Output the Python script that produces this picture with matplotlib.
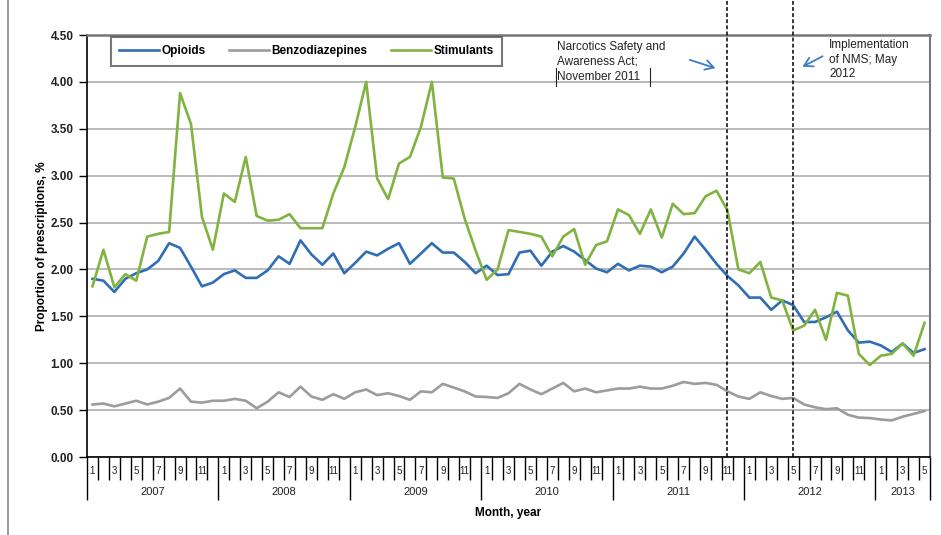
import numpy as np
import matplotlib.pyplot as plt
from matplotlib.lines import Line2D
from matplotlib.ticker import FormatStrFormatter
from matplotlib.transforms import blended_transform_factory

plt.rcParams["font.family"] = ["Liberation Sans", "DejaVu Sans"]

# months shown: Jan 2007 .. May 2013
years = [2007, 2008, 2009, 2010, 2011, 2012, 2013]
months_per_year = [12, 12, 12, 12, 12, 12, 5]

opioids = [
    1.90, 1.88, 1.76, 1.90, 1.96, 2.00, 2.09, 2.28, 2.23, 2.03, 1.82, 1.86,
    1.95, 1.99, 1.91, 1.91, 1.99, 2.14, 2.06, 2.31, 2.16, 2.05, 2.17, 1.96,
    2.07, 2.19, 2.15, 2.22, 2.28, 2.06, 2.17, 2.28, 2.18, 2.18, 2.08, 1.96,
    2.04, 1.94, 1.95, 2.18, 2.20, 2.04, 2.19, 2.25, 2.19, 2.10, 2.01, 1.97,
    2.06, 1.99, 2.04, 2.03, 1.97, 2.03, 2.17, 2.35, 2.21, 2.06, 1.93, 1.83,
    1.70, 1.70, 1.57, 1.67, 1.62, 1.44, 1.44, 1.49, 1.55, 1.35, 1.22, 1.23,
    1.19, 1.12, 1.21, 1.11, 1.15,
]
benzodiazepines = [
    0.56, 0.57, 0.54, 0.57, 0.60, 0.56, 0.59, 0.63, 0.73, 0.59, 0.58, 0.60,
    0.60, 0.62, 0.60, 0.52, 0.59, 0.69, 0.64, 0.75, 0.645, 0.61, 0.67, 0.62,
    0.69, 0.72, 0.66, 0.68, 0.65, 0.61, 0.70, 0.69, 0.78, 0.74, 0.70, 0.645,
    0.64, 0.63, 0.68, 0.78, 0.72, 0.67, 0.73, 0.79, 0.70, 0.73, 0.69, 0.71,
    0.73, 0.73, 0.75, 0.73, 0.73, 0.76, 0.80, 0.78, 0.79, 0.77, 0.70, 0.645,
    0.62, 0.69, 0.65, 0.62, 0.63, 0.56, 0.53, 0.51, 0.52, 0.45, 0.42, 0.415,
    0.40, 0.39, 0.43, 0.46, 0.49,
]
stimulants = [
    1.82, 2.21, 1.81, 1.95, 1.88, 2.35, 2.38, 2.40, 3.88, 3.55, 2.56, 2.21,
    2.81, 2.72, 3.20, 2.57, 2.52, 2.53, 2.59, 2.44, 2.44, 2.44, 2.81, 3.09,
    3.52, 4.00, 2.97, 2.75, 3.13, 3.20, 3.52, 4.00, 2.98, 2.97, 2.54, 2.20,
    1.89, 2.00, 2.42, 2.40, 2.38, 2.35, 2.14, 2.35, 2.43, 2.05, 2.26, 2.30,
    2.64, 2.58, 2.38, 2.64, 2.34, 2.70, 2.59, 2.60, 2.78, 2.84, 2.63, 2.00,
    1.96, 2.08, 1.70, 1.67, 1.35, 1.40, 1.57, 1.25, 1.75, 1.72, 1.10, 0.98,
    1.08, 1.10, 1.21, 1.08, 1.43,
]
# policy events (year, month)
events = [(2011, 11), (2012, 5)]

months = [(y, m) for y, n in zip(years, months_per_year) for m in range(1, n + 1)]
x = np.arange(len(months))

W, H = 941, 535
fig = plt.figure(figsize=(W / 100, H / 100), dpi=100)
ax = fig.add_axes([87 / W, 1 - 457 / H, (930 - 87) / W, (457 - 35) / H])

ax.plot(x, opioids, color="#2f6db5", lw=1.9, label="Opioids", zorder=3)
ax.plot(x, benzodiazepines, color="#9c9c9c", lw=1.9, label="Benzodiazepines", zorder=2)
ax.plot(x, stimulants, color="#80b33f", lw=1.9, label="Stimulants", zorder=4)

# dashed event lines reaching up to the top of the figure
for ev in events:
    ax.axvline(months.index(ev), ymin=0, ymax=457 / 422, color="black",
               ls=(0, (2.5, 1.5)), lw=1.1, clip_on=False, zorder=5)

ax.set_xlim(-0.5, len(months) - 0.5)
ax.set_ylim(0, 4.5)
ax.set_yticks(np.arange(0, 4.51, 0.5))
ax.yaxis.set_major_formatter(FormatStrFormatter("%.2f"))
ax.tick_params(axis="y", length=6, width=1, pad=3.5, labelsize=8.5,
               labelcolor="#222222")
for lab in ax.get_yticklabels():
    lab.set_fontweight("bold")
ax.yaxis.grid(True, color="#b4b4b4", lw=1.3)
ax.set_axisbelow(True)

# x axis: month separators (minor), year separators (major)
year_bounds = np.concatenate([[0], np.cumsum(months_per_year)]) - 0.5
ax.set_xticks(year_bounds)
ax.set_xticks(x[1:] - 0.5, minor=True)
ax.tick_params(axis="x", which="major", length=31, width=1, labelbottom=False)
ax.tick_params(axis="x", which="minor", length=16.5, width=1, labelbottom=False)

trans = blended_transform_factory(ax.transData, ax.transAxes)
for i, (y, m) in enumerate(months):
    if m % 2 == 1:
        ax.text(i, -0.033, str(m), transform=trans, ha="center", va="center",
                fontsize=7, color="#222222")
for k, y in enumerate(years):
    mid = (year_bounds[k] + year_bounds[k + 1]) / 2
    ax.text(mid, -0.084, str(y), transform=trans, ha="center", va="center",
            fontsize=8, color="#222222")

for side in ["left", "bottom"]:
    ax.spines[side].set_color("black")
    ax.spines[side].set_linewidth(1.2)
ax.spines["top"].set_color("#777777")
ax.spines["top"].set_linewidth(1.8)
ax.spines["right"].set_color("#777777")
ax.spines["right"].set_linewidth(1.5)

ax.set_xlabel("Month, year", fontsize=8.5, fontweight="bold", va="center")
ax.xaxis.set_label_coords(0.5, -0.133)
ax.set_ylabel("Proportion of prescriptions, %", fontsize=8.5,
              fontweight="bold", va="center")
ax.yaxis.set_label_coords(-0.053, 0.5)

leg = ax.legend(loc="upper left", bbox_to_anchor=(0.028, 0.995), ncol=3,
                borderaxespad=0, fancybox=False, handlelength=3.4,
                handletextpad=0.2, columnspacing=2.0, borderpad=0.7,
                prop={"size": 8.5, "weight": "bold"})
leg.get_frame().set_edgecolor("#555555")
leg.get_frame().set_linewidth(1.5)

# annotations
fig.text(557 / W, 1 - 41 / H, "Narcotics Safety and\nAwareness Act;\nNovember 2011",
         ha="left", va="top", fontsize=8.5, linespacing=1.33, color="#222222")
fig.text(829 / W, 1 - 39 / H, "Implementation\nof NMS; May\n2012",
         ha="left", va="top", fontsize=8.5, linespacing=1.28, color="#222222")
for bx in [556, 650]:
    fig.add_artist(Line2D([bx / W, bx / W], [1 - 68 / H, 1 - 86 / H],
                          color="#222222", lw=0.8))

arrow = dict(arrowstyle="->,head_length=0.6,head_width=0.35", color="#3b7dc8", lw=1.3)
ax.annotate("", xy=(718, H - 69), xytext=(687, H - 59),
            xycoords="figure pixels", textcoords="figure pixels", arrowprops=arrow)
ax.annotate("", xy=(800, H - 68), xytext=(825, H - 55),
            xycoords="figure pixels", textcoords="figure pixels", arrowprops=arrow)

# outer frame edge
fig.add_artist(Line2D([8 / W, 8 / W], [0, 1], color="#888888", lw=1.2))

fig.savefig("out.png", dpi=100)
